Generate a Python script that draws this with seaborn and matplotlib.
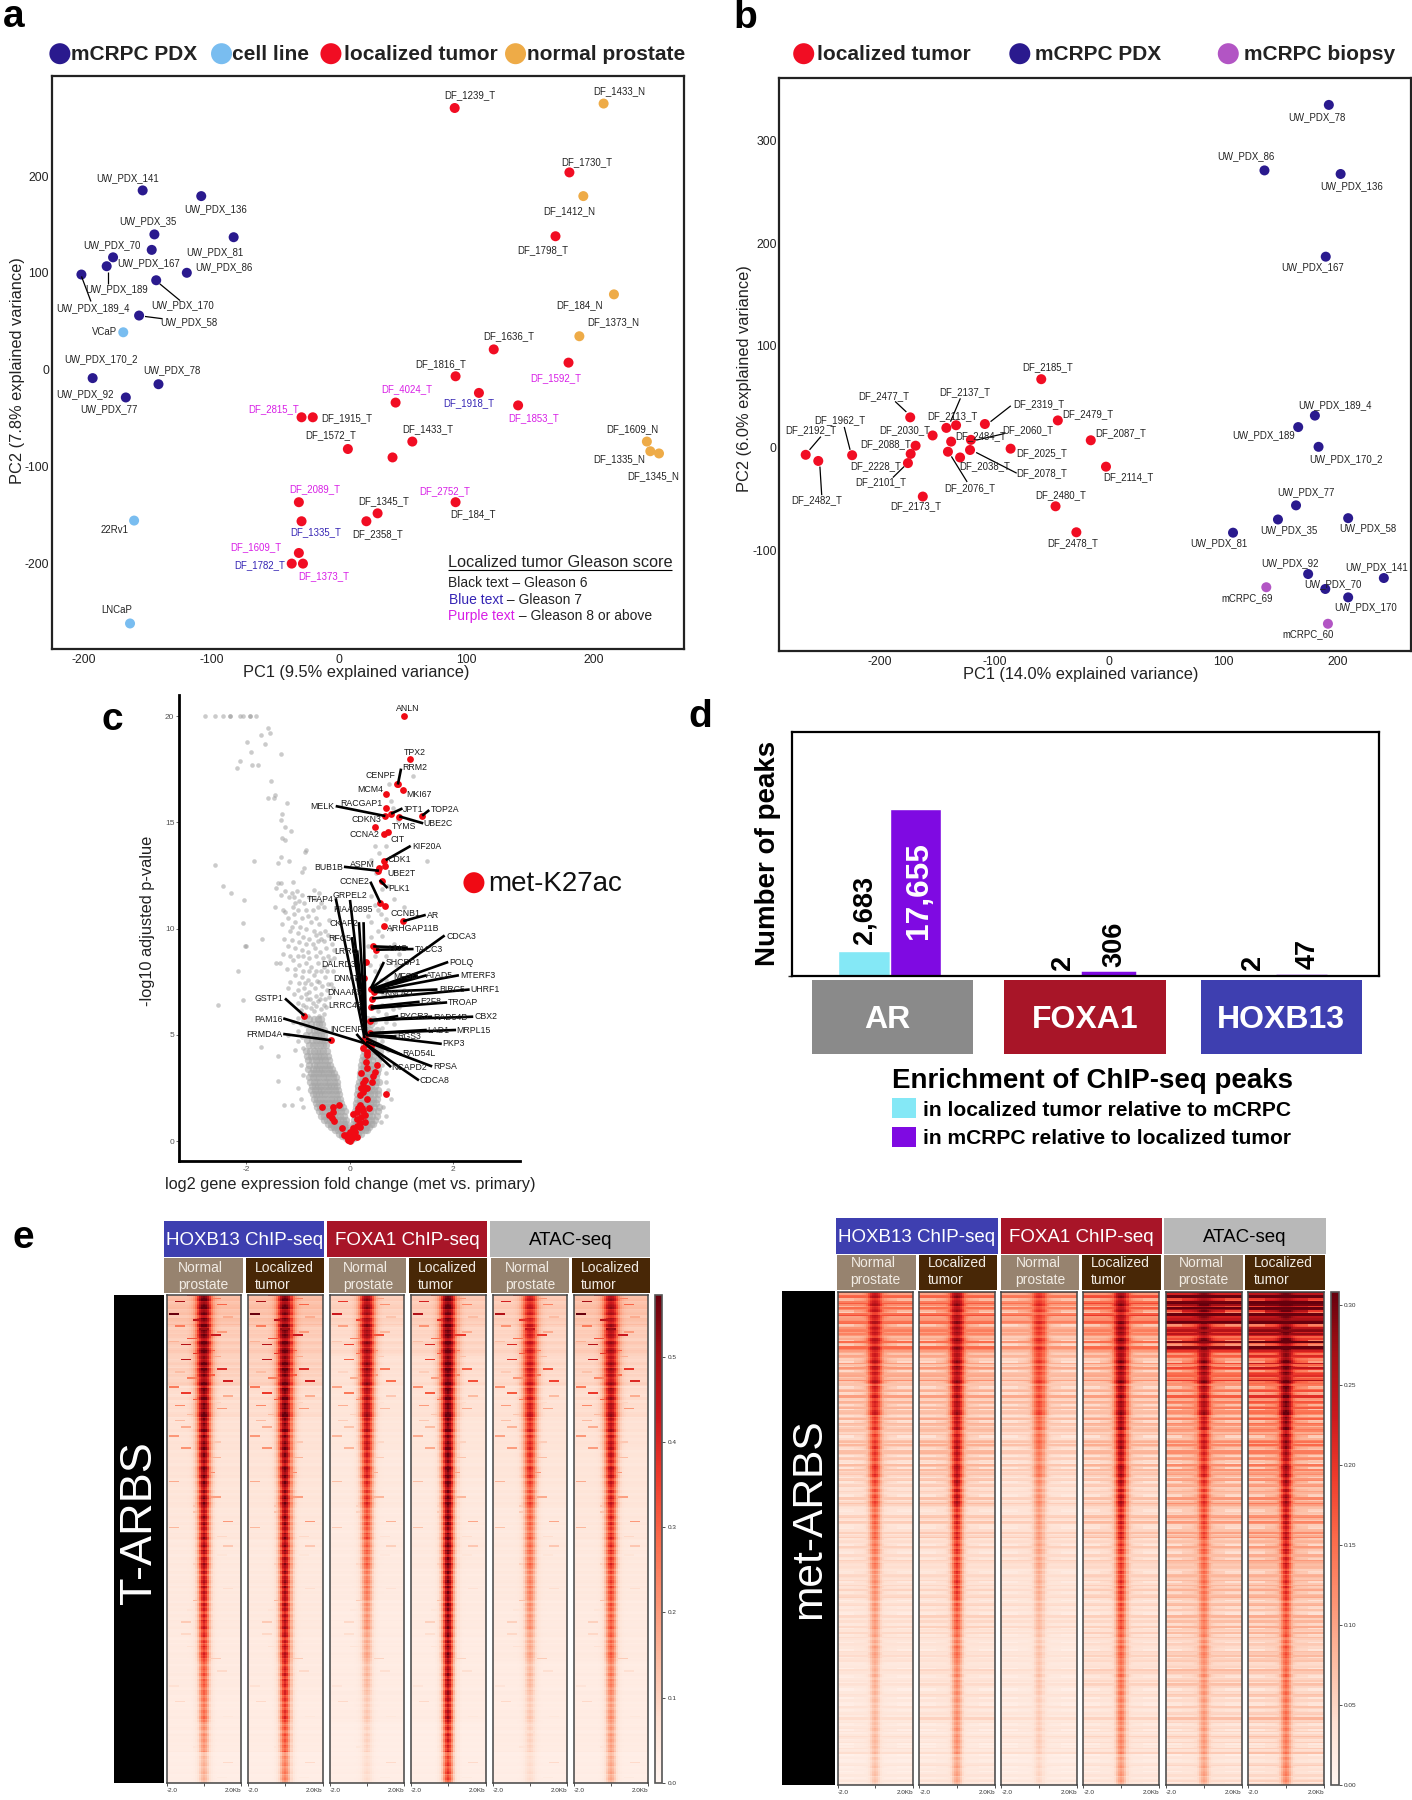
import numpy as np
import pandas as pd
import matplotlib
matplotlib.use("Agg")
import matplotlib.pyplot as plt
from matplotlib.patches import Rectangle, Circle
import seaborn as sns

sns.set_theme(style="white")
plt.rcParams['font.family'] = ['Liberation Sans', 'DejaVu Sans']
plt.rcParams['axes.unicode_minus'] = False

W, H = 1412, 1800
C_PDX, C_CELL, C_TUM, C_NORM, C_BIO = '#2a1a8e', '#79bdf0', '#f10d23', '#eeab47', '#b255c4'
TXT, BLUE, PURP = '#222222', '#3424b4', '#d81ee6'
C_HOX, C_FOX, C_ATAC, C_AR = '#3e3fb0', '#a81528', '#b8b8b8', '#8a8a8a'
C_NP, C_LT = '#97836f', '#482706'

# ---------- panel a data ----------
a_pdx_x = [-153.8, -107.9, -144.6, -146.7, -177, -182, -201.8, -82.5, -119.2, -143.2, -156.6, -193, -167, -141.4]
a_pdx_y = [185.4, 179.5, 139.9, 123.9, 116.2, 107, 98.4, 137, 100.2, 92.5, 56, -8.7, -28.7, -15]
a_cell_x = [-169, -160.5, -163.7]
a_cell_y = [38.7, -156, -262.4]
a_tum_x = [90.7, 180.6, 169.7, 121.3, 179.9, 91.4, 109.7, 44.4, 140.4, -29.3, -20.5, 7, 57.5, 42, -31.4, 91.4, 30.3, 21.5, -29.3, -31.4, -37, -28.2]
a_tum_y = [270.6, 204, 138, 21, 7.3, -6.8, -24, -34, -36.9, -49.2, -49.2, -82, -74.3, -90.7, -137, -137, -148.5, -156.7, -156.7, -189.5, -200.5, -200.5]
a_norm_x = [207.4, 191.5, 215.5, 188.4, 241.3, 244, 250.8]
a_norm_y = [275.2, 179.5, 77.9, 34.6, -74.3, -84.3, -86.6]

# ---------- panel b data ----------
b_tum_x = [-59, -173.6, -133.5, -142, -108.3, -44.5, -154, -168.9, -173.2, -175.6, -265, -254, -224.4, -15.7, -2.4, -120.5, -137.8, -140.6, -130, -121.3, -85.8, -162.6, -46.5, -28.3]
b_tum_y = [67, 29.7, 22, 19.4, 23.2, 26.7, 12, 2, -6, -15, -6.9, -12.9, -7.3, 7.3, -18.5, 7.7, 6, -3.9, -9.5, -2.2, -0.9, -47.7, -57.2, -82.6]
b_pdx_x = [192.5, 136.2, 202.8, 189.8, 180.3, 165.7, 183.5, 163.8, 148, 209.4, 108.7, 174.4, 240.6, 189.4, 209.4]
b_pdx_y = [335, 271, 267.5, 186.7, 31.4, 20.2, 0.9, -56.3, -70.1, -68.8, -83, -123.4, -127.3, -138, -146.2]
b_bio_x = [137.8, 191.7]
b_bio_y = [-136.3, -172]

# ---------- panel c data ----------
c_red_x = [1.045, 1.17, .907, .94, 1.03, .71, .706, .69, .80, 1.405, .96, .49, .74, .664, .67, .685, .57, .55, .616, .595, .69, 1.04, .657, .457, .512, .325, .27, .41, .48, .436, .41, .39, .39, .29, .32, .42, -.88, -.36,
           .33, .31, .34, .52, .49, .46, .22, .43, .30, .26, .22, .30, .33, .19, .26, .33, .70, -.54, -.21, -.32, -.33, -.41, -.35, -.30, -.155,
           .2, .17, .23, .15, .25, .38, .07, .30, .22, .135, .30, .2, .135, .07, .2, .006, .10, -.06, 0, -.12, .135, .04, -.03, 0, -.045, .07, .3, .36, .26, .33]
c_red_y = [20, 17.97, 16.82, 16.8, 16.55, 16.32, 15.68, 15.3, 15.4, 15.3, 15.27, 14.8, 14.55, 14.45, 13.2, 12.95, 12.87, 12.7, 12.23, 11.2, 11.06, 10.34, 10.14, 9.16, 9.0, 8.42, 7.68, 7.18, 7.02, 6.7, 6.32, 5.66, 5.07, 4.84, 4.55, 4.49, 5.9, 4.74,
           4.04, 3.73, 3.42, 3.6, 3.26, 3.06, 3.18, 2.79, 2.87, 2.71, 2.52, 2.52, 2.52, 2.16, 2.32, 1.96, 2.21, 1.61, 1.69, 1.58, 1.38, 1.22, 1.07, .96, .63,
           1.69, 1.54, 1.54, 1.38, 1.43, 1.54, 1.25, 1.22, 1.14, 1.02, .91, .83, .71, .6, .67, .44, .44, .28, .28, .28, .2, .125, .05, 0, .17, .28, 4.7, 4.7, 4.4, 4.2]

c_row_y = [.05, .15, .25, .35, .5, .65, .8, 1.0, 1.2, 1.4, 1.6, 1.8, 2.0, 2.2, 2.4, 2.6, 2.8, 3.0, 3.2, 3.4, 3.6, 3.8, 4.0, 4.25, 4.5, 4.75, 5.0, 5.25, 5.5, 5.75]
c_row_x = [
    [-.02, .02],
    [-.07, -.03, .03, .08],
    [-.14, -.09, -.04, .04, .09, .15],
    [-.2, -.15, -.1, -.05, .05, .11, .17, .22],
    [-.28, -.22, -.17, -.11, -.05, .05, .1, .16, .22, .29, .33],
    [-.36, -.3, -.24, -.18, -.12, -.07, .06, .12, .18, .24, .31, .38],
    [-.42, -.36, -.3, -.24, -.18, -.12, -.07, .07, .13, .2, .26, .33, .41, .45],
    [-.5, -.44, -.38, -.31, -.25, -.19, -.13, -.08, .09, .15, .22, .28, .35, .42, .49],
    [-.55, -.49, -.43, -.37, -.3, -.24, -.18, -.12, .1, .16, .23, .3, .37, .44, .52],
    [-.6, -.54, -.47, -.41, -.35, -.28, -.22, -.16, -.1, .11, .18, .25, .32, .39, .46, .55],
    [-.63, -.57, -.5, -.44, -.38, -.32, -.25, -.19, -.13, .12, .19, .26, .33, .4, .47, .56],
    [-.66, -.6, -.54, -.47, -.41, -.35, -.28, -.22, -.16, .13, .19, .26, .32, .39, .45, .5],
    [-.7, -.63, -.57, -.5, -.44, -.37, -.31, -.25, -.18, .14, .2, .27, .33, .39, .46, .52],
    [-.72, -.66, -.6, -.53, -.47, -.4, -.34, -.27, -.2, .15, .21, .27, .34, .4, .47, .54],
    [-.75, -.68, -.62, -.55, -.49, -.42, -.36, -.29, -.22, .16, .22, .28, .35, .41, .48, .55],
    [-.73, -.67, -.61, -.55, -.48, -.42, -.36, -.3, -.24, .17, .23, .29, .36, .42, .49],
    [-.76, -.7, -.63, -.57, -.5, -.44, -.38, -.31, -.25, .18, .24, .3, .37, .43, .5, .56],
    [-.78, -.71, -.65, -.59, -.52, -.46, -.4, -.33, -.27, .19, .25, .31, .38, .44, .5],
    [-.75, -.69, -.62, -.56, -.5, -.43, -.37, -.31, .2, .26, .32, .39, .45, .52],
    [-.8, -.72, -.66, -.59, -.53, -.47, -.41, -.34, .21, .27, .33, .39, .46, .54],
    [-.78, -.7, -.63, -.57, -.5, -.44, -.38, .22, .28, .34, .41, .48],
    [-.8, -.73, -.66, -.6, -.53, -.47, -.41, .24, .3, .36, .43, .55],
    [-.83, -.75, -.68, -.61, -.55, -.49, -.42, .25, .31, .38, .45],
    [-.85, -.76, -.7, -.63, -.57, -.51, -.44, .27, .33, .4, .48, .58],
    [-.78, -.71, -.65, -.58, -.52, -.46, .28, .35, .42, .52],
    [-.82, -.73, -.66, -.6, -.53, -.47, .3, .37, .45],
    [-.85, -.75, -.68, -.61, -.55, -.49, .3, .38, .47, .58],
    [-.78, -.7, -.64, -.57, -.5, .32, .4, .52],
    [-.84, -.74, -.66, -.6, -.53, .33, .42],
    [-.78, -.7, -.62, -.55, .34, .45],
]
c_sparse_x = [-2.8, -2.61, -2.45, -2.31, -2.31, -2.12, -2.07, -1.94, -1.94, -1.81, -1.58, -1.55, -1.72, -1.65, -1.99, -1.91, -1.34, -2.12, -1.9, -1.78, -2.19, -1.52, -1.45, -1.46, -1.58, -1.22, -1.32, -1.34, -1.25, -1.13, -1.32, -1.25, -.84, -.86, -1.34, -1.38, -1.17, -1.85, -2.6, -.89, -.93, -1.38, -1.33, -1.1, -2.46, -2.29, -2.05, -2.07, -1.7, -2.03, -2, -2.17, -2.07, -2.55, -1.71, -1.38, -1.38, -1.27, -1.12,
              -1.12, -1.08, -1.05, -1.1, -1.0, -.7, -.68, -.6, -.55, -.5, -1.45, -1.3, -1.25, -.85, -.8, -.75, -.65, -.6, -1.05, -1.15, -1.0, -.9, -.78, -.66, -.55, -.47, -.4, -1.2, -1.05, -.92, -.8, -.68, -.58, -.45, -.35, -1.42, -1.35, -1.1, -.98, -.85, -.74, -.62, -.5, -.38, -1.05, -.92, -.8, -.7, -.6, -.48, -.36, -1.2, -1.0, -.88, -.78, -.67, -.55, -.44, -1.0, -.9, -.82, -.72, -.62, -.5, -.88, -.8, -.7, -.6, -.5, -1.1, -.95, -1.2, -1.0, -1.05, -.95, -.9, -1.0, -.95, -.9,
              1.23, .77, .8, .84, .94, .49, .56, .42, 1.5, .7, .63, .42, .49, .6, .42, .7, .42, .63, 1.05, .49, .7, .49, .9, .56, .7, .9, .63, .84, .7, .49, .63, .9, .63, .7, .8,
              -1.42, -1.33, -1.25, -1.18, -1.02, -.98, -.92, -.88, -.78, -.62, -.72, -.93, -1.08, -1.2, -1.32, -1.12, -.97, -.85, -.7, -.58, -.5, -.42, -.3, -1.28, -1.12, -.98, -.85, -.72, -.62, -.3, -1.3, -1.16, -1.0, -.9, -.78, -.66, -.52, -.42, -.3, -1.22, -1.05, -.9, -.78, -.66, -.55, -.44, -.32, -1.15, -.98, -.86, -.74, -.64, -.54, -.42, -.32, -1.08, -.95, -.85, -.76, -.66, -.58, -.48, -.4, -.95, -.85, -.75, -.66, -.56, -.46, -1.0, -.9, -1.0, -.92, -.9,
              .5, .75, .85, .55, .35, .8, .55, .35, .85, .95, .6, .4, .95, .6, 1.05, .8, .65, .95, .7, .55, .85, .62, .75, .6, .7, .75, .65, .7, .6]
c_sparse_y = [20, 20, 20, 20, 20, 20, 20, 20, 20, 20, 19.45, 19.2, 19.1, 18.7, 18.77, 18.3, 18.2, 17.9, 17.7, 17.7, 17.55, 16.95, 16.3, 16.15, 16.15, 15.9, 15.4, 15.1, 14.8, 14.6, 14.25, 14.15, 13.7, 13.6, 13.35, 13.1, 13.2, 13.2, 13, 12.87, 12.67, 12.17, 12.17, 12.2, 12, 11.7, 11.35, 10.25, 9.5, 9.2, 9.2, 8, 6.65, 6.4, 4.45, 4, 2.84, 1.68, 1.7,
              11.7, 11.5, 11.2, 11, 10.9, 11.8, 11.4, 11.7, 11.2, 11, 11, 10.9, 10.8, 10.9, 10.6, 10.3, 10.5, 10.2, 10.3, 9.9, 9.8, 9.6, 9.5, 9.7, 9.5, 9.9, 10.4, 9.2, 9.1, 9, 8.9, 9.1, 8.9, 9.1, 9.3, 8.4, 8.4, 8.5, 8.3, 8.4, 8.2, 8.4, 8.2, 8.5, 7.8, 7.7, 7.6, 7.8, 7.5, 7.7, 7.4, 7.2, 7.1, 7.2, 7, 7.2, 6.9, 7.1, 6.5, 6.4, 6.7, 6.5, 6.6, 6.4, 6, 5.9, 6.1, 5.9, 6, 5.6, 5.5, 5, 4.7, 4.3, 3.6, 3.1, 2.5, 2, 1.6,
              17.2, 16.8, 16, 15.7, 15.1, 13.9, 13.55, 13.25, 13.2, 13.9, 11.85, 11.55, 11.1, 10.7, 10.3, 10.45, 9.6, 9.67, 11, 8.7, 8.7, 8, 8.3, 7.2, 7.6, 7.5, 6.4, 6.2, 5.6, 5.6, 4.7, 5, 3.6, 2.8, 2,
              11.9, 11.6, 11.75, 11.5, 11.75, 11.3, 11.6, 11.2, 11.5, 11.0, 10.9, 10.5, 10.7, 10.5, 10.2, 10.1, 10.1, 10.0, 9.9, 9.8, 9.4, 9.7, 9.6, 9.5, 9.45, 9.35, 9.3, 9.3, 9.4, 9.0, 8.8, 8.7, 8.7, 8.7, 8.6, 8.7, 8.6, 8.7, 8.6, 8.1, 8.1, 8.0, 8.0, 8.0, 8.0, 8.0, 8.0, 7.5, 7.45, 7.45, 7.4, 7.55, 7.3, 7.4, 7.2, 6.9, 6.8, 6.9, 6.7, 6.85, 6.7, 6.7, 6.8, 6.15, 6.3, 6.25, 6.35, 6.2, 6.3, 5.8, 5.7, 5.2, 4.9, 4.4,
              12.6, 12.0, 11.4, 10.9, 10.6, 10, 9.9, 9.2, 9.3, 8.8, 8.3, 8.3, 7.8, 7.6, 7.1, 6.8, 6.9, 6.3, 6.0, 6.1, 5.5, 5.3, 4.3, 3.9, 3.2, 2.4, 1.6, 1.2, .9]

# ---------- panel d data ----------
d_targets = ['AR', 'FOXA1', 'HOXB13']
d_local = [2683, 2, 2]
d_mcrpc = [17655, 306, 47]

# ---------- panel e data: read per depth band, top to bottom ----------
t_peak = [[.56, .56, .55, .55, .55, .54, .52, .5, .48, .46, .42, .38, .32, .28, .22, .16],
          [.55, .56, .56, .56, .55, .54, .53, .52, .5, .5, .48, .45, .42, .38, .32, .25],
          [.5, .5, .5, .48, .46, .42, .38, .34, .3, .26, .22, .18, .15, .12, .1, .08],
          [.57, .57, .57, .57, .57, .57, .56, .56, .55, .55, .54, .52, .5, .48, .42, .36],
          [.42, .42, .42, .42, .4, .38, .34, .3, .28, .25, .22, .18, .15, .12, .1, .08],
          [.48, .48, .48, .48, .47, .45, .42, .4, .38, .35, .32, .3, .26, .22, .2, .18]]
t_flank = [[.12, .1, .09, .07, .06, .055, .05, .045, .04, .04, .04, .035, .035, .03, .03, .025],
           [.12, .1, .09, .07, .06, .055, .05, .045, .04, .04, .04, .035, .035, .03, .03, .025],
           [.09, .075, .06, .05, .045, .04, .04, .035, .035, .035, .03, .03, .03, .03, .025, .025],
           [.1, .085, .07, .06, .05, .045, .04, .04, .04, .035, .035, .03, .03, .03, .025, .025],
           [.1, .085, .075, .06, .055, .05, .045, .04, .04, .04, .035, .035, .03, .03, .03, .025],
           [.12, .1, .085, .07, .06, .05, .05, .045, .04, .04, .035, .035, .03, .03, .03, .025]]
m_peak = [[.24, .24, .24, .22, .2, .2, .18, .16, .14, .12, .11, .1, .09, .08, .08, .07],
          [.27, .27, .27, .26, .25, .25, .25, .22, .2, .2, .17, .15, .13, .12, .12, .1],
          [.2, .2, .19, .18, .16, .14, .12, .11, .1, .09, .08, .07, .07, .06, .06, .05],
          [.27, .28, .28, .27, .27, .26, .25, .23, .2, .2, .18, .16, .15, .14, .13, .11],
          [.3, .29, .28, .26, .24, .22, .2, .19, .16, .15, .14, .13, .12, .11, .11, .1],
          [.31, .31, .3, .3, .29, .27, .26, .25, .23, .21, .18, .17, .16, .15, .14, .13]]
m_flank = [[.09, .08, .06, .05, .045, .04, .035, .03, .03, .03, .025, .025, .02, .02, .02, .015],
           [.09, .08, .06, .05, .05, .045, .04, .035, .03, .03, .03, .025, .025, .025, .02, .02],
           [.08, .06, .05, .045, .04, .035, .03, .03, .03, .025, .025, .02, .02, .02, .02, .015],
           [.1, .08, .06, .05, .05, .045, .04, .04, .035, .035, .03, .03, .03, .025, .025, .02],
           [.2, .15, .1, .08, .07, .065, .06, .055, .05, .05, .045, .04, .04, .035, .03, .025],
           [.22, .17, .13, .1, .085, .075, .07, .065, .06, .055, .05, .045, .04, .04, .035, .03]]
width_mix = [1, 1, .9, .7, .5, .4, .3, .2, .2, .1, .1, .1, 0, 0, 0, 0]
narrow_shape = [1, .85, .55, .25, .1, .04, .01, 0, 0, 0, 0]
wide_shape = [1, .95, .8, .55, .3, .15, .07, .03, .01, 0, 0]
t_streak = ("5273048160392751804629037154826093715482"
            "0304105020600400307005001060030400805002"
            "0040010030005000200060010004000300020005"
            "0003000020000400001000030000200005000010")
t_spot = ("3718250946158730296472058163940629471853"
          "5182640379294710586380635172941475920638"
          "6392081745085642917347130962859260538417"
          "3598162704704182539626857301495139406287")
peak_var = ("6857968475967858749675869785694876957869"
            "5786948576958674786969758486975768497586"
            "8695748697587694685779684857696857496875"
            "8476958674958674869576849685764857968475")
peak_var2 = ("7968574869586749678576948576869749587689"
             "8576947586968574976859748695867496857469"
             "5769848576947869586749857696857948675986"
             "7685946857968475869749576868594768579684")
m_streak = ("9726481935827463918537291648527182936405"
            "2917485063528173904617382509464029371586"
            "2607183945317409526806251847304193720586"
            "2507316940384106279516039274850427153960")
tick_t = [0, .1, .2, .3, .4, .5]
tick_m = [0, .05, .1, .15, .2, .25, .3]

# ---------- helpers ----------
fig = plt.figure(figsize=(W / 100, H / 100), dpi=100, facecolor='white')


def axpx(x0, y0, x1, y1, **kw):
    return fig.add_axes([x0 / W, 1 - y1 / H, (x1 - x0) / W, (y1 - y0) / H], **kw)


def scatter(ax, groups, size):
    df = pd.DataFrame([(x, y, n) for n, xs, ys, c in groups for x, y in zip(xs, ys)], columns=['x', 'y', 'g'])
    pal = {n: c for n, xs, ys, c in groups}
    sns.scatterplot(data=df, x='x', y='y', hue='g', palette=pal, s=size, linewidth=0, legend=False, ax=ax, clip_on=False)


def pca_axes(box, xlim, ylim, xt, yt):
    ax = axpx(*box)
    ax.set_xlim(*xlim)
    ax.set_ylim(*ylim)
    ax.set_xticks(xt)
    ax.set_yticks(yt)
    ax.tick_params(axis='y', length=0, labelsize=8.8, pad=2, colors='#222222')
    ax.tick_params(axis='x', length=0, labelsize=8.8, pad=3.5, colors='#222222')
    for s in ax.spines.values():
        s.set_visible(True)
        s.set_linewidth(1.6)
        s.set_color('#222222')
    return ax


ov = fig.add_axes([0, 0, 1, 1], zorder=20)
ov.set_xlim(0, W)
ov.set_ylim(H, 0)
ov.axis('off')
ov.patch.set_alpha(0)

# panel frames in the zoomed-crop coordinates used while reading the layout
FR = {'a': (0, 0, 2.221, 2.272), 'b': (706, 0, 2.221, 2.272), 'c': (100, 690, 2.8, 3.015), 'd': (680, 700, 2.142, 3.0)}


def P(f, zx, zy):
    ox, oy, sx, sy = FR[f]
    return ox + zx / sx, oy + zy / sy


def T(f, zx, zy, s, size=6.9, color=TXT, ha='center', va='center', **kw):
    x, y = P(f, zx, zy)
    ov.text(x, y, s, fontsize=size, color=color, ha=ha, va=va, **kw)


def L(f, zx0, zy0, zx1, zy1, lw=0.9):
    x0, y0 = P(f, zx0, zy0)
    x1, y1 = P(f, zx1, zy1)
    ov.plot([x0, x1], [y0, y1], color='black', lw=lw, solid_capstyle='butt')


def dot(x, y, d, c):
    ov.add_patch(Circle((x, y), d / 2, color=c, lw=0))


def box(x0, y0, x1, y1, c):
    ov.add_patch(Rectangle((x0, y0), x1 - x0, y1 - y0, color=c, lw=0))


# ---------- panel a ----------
ax_a = pca_axes((51.8, 75.7, 683.5, 649.2), (-225, 270), (-289, 304), [-200, -100, 0, 100, 200], [-200, -100, 0, 100, 200])
scatter(ax_a, [('pdx', a_pdx_x, a_pdx_y, C_PDX), ('cell', a_cell_x, a_cell_y, C_CELL),
               ('tum', a_tum_x, a_tum_y, C_TUM), ('norm', a_norm_x, a_norm_y, C_NORM)], 52)
ax_a.set_xlabel('')
ax_a.set_ylabel('')
a_labels = [('DF_1239_T', 1044, 217, TXT), ('DF_1433_N', 1375, 207, TXT), ('DF_1730_T', 1303, 369, TXT), ('DF_1412_N', 1265, 480, TXT),
            ('DF_1798_T', 1206, 568, TXT), ('DF_184_N', 1288, 693, TXT), ('DF_1373_N', 1362, 732, TXT), ('DF_1636_T', 1129, 763, TXT),
            ('DF_1592_T', 1235, 859, PURP), ('DF_1816_T', 978, 828, TXT), ('DF_4024_T', 904, 884, PURP), ('DF_1918_T', 1040, 915, BLUE),
            ('DF_1853_T', 1186, 951, PURP), ('DF_2815_T', 607, 930, PURP), ('DF_1915_T', 771, 951, TXT), ('DF_1572_T', 735, 989, TXT),
            ('DF_1433_T', 950, 975, TXT), ('DF_2089_T', 699, 1112, PURP), ('DF_2752_T', 988, 1115, PURP), ('DF_184_T', 1050, 1169, TXT),
            ('DF_1345_T', 852, 1138, TXT), ('DF_2358_T', 838, 1214, TXT), ('DF_1335_T', 702, 1208, BLUE), ('DF_1609_T', 568, 1242, PURP),
            ('DF_1782_T', 577, 1284, BLUE), ('DF_1373_T', 719, 1308, PURP), ('DF_1609_N', 1405, 975, TXT), ('DF_1335_N', 1375, 1043, TXT),
            ('DF_1345_N', 1451, 1081, TXT), ('UW_PDX_141', 284, 405, TXT), ('UW_PDX_136', 478, 476, TXT), ('UW_PDX_35', 329, 503, TXT),
            ('UW_PDX_70', 249, 556, TXT), ('UW_PDX_167', 330, 597, TXT), ('UW_PDX_81', 477, 572, TXT), ('UW_PDX_86', 498, 608, TXT),
            ('UW_PDX_189', 259, 656, TXT), ('UW_PDX_170', 406, 693, TXT), ('UW_PDX_189_4', 206, 699, TXT), ('UW_PDX_58', 420, 731, TXT),
            ('VCaP', 233, 754, TXT), ('UW_PDX_170_2', 225, 817, TXT), ('UW_PDX_78', 381, 842, TXT), ('UW_PDX_92', 189, 895, TXT),
            ('UW_PDX_77', 243, 929, TXT), ('22Rv1', 255, 1204, TXT), ('LNCaP', 259, 1387, TXT)]
for s, zx, zy, c in a_labels:
    T('a', zx, zy, s, color=c)
for seg in [(181, 628, 202, 685), (240, 618, 240, 645), (355, 645, 400, 683), (322, 719, 360, 724)]:
    L('a', *seg)
T('a', 790, 1527, 'PC1 (9.5% explained variance)', size=11.75)
T('a', 38, 842, 'PC2 (7.8% explained variance)', size=11.75, rotation=90)
T('a', 995, 1278, 'Localized tumor Gleason score', size=11.7, ha='left')
L('a', 995, 1295, 1493, 1295, lw=0.8)
T('a', 996, 1325, 'Black text – Gleason 6', size=10, ha='left')
T('a', 998, 1364, 'Blue text', size=10, ha='left', color=BLUE)
T('a', 1118, 1364, ' – Gleason 7', size=10, ha='left')
T('a', 996, 1400, 'Purple text', size=10, ha='left', color=PURP)
T('a', 1143, 1400, ' – Gleason 8 or above', size=10, ha='left')
for zx, c, tx, s in [(133, C_PDX, 158, 'mCRPC PDX'), (492, C_CELL, 516, 'cell line'), (735, C_TUM, 763, 'localized tumor'), (1145, C_NORM, 1171, 'normal prostate')]:
    x, y = P('a', zx, 122)
    dot(x, y, 21, c)
    T('a', tx, 124, s, size=15.05, ha='left', fontweight='bold')
ov.text(14, 17, 'a', fontsize=28, fontweight='bold', color='black', ha='center', va='center')

# ---------- panel b ----------
ax_b = pca_axes((779.4, 78.3, 1410.6, 651.4), (-288, 264), (-199, 361), [-200, -100, 0, 100, 200], [-100, 0, 100, 200, 300])
scatter(ax_b, [('tum', b_tum_x, b_tum_y, C_TUM), ('pdx', b_pdx_x, b_pdx_y, C_PDX), ('bio', b_bio_x, b_bio_y, C_BIO)], 52)
ax_b.set_xlabel('')
ax_b.set_ylabel('')
b_labels = [('UW_PDX_78', 1357, 266), ('UW_PDX_86', 1200, 355), ('UW_PDX_136', 1433, 422), ('UW_PDX_167', 1348, 608), ('UW_PDX_189_4', 1398, 920),
            ('UW_PDX_189', 1238, 989), ('UW_PDX_170_2', 1421, 1042), ('UW_PDX_77', 1332, 1119), ('UW_PDX_35', 1295, 1204), ('UW_PDX_58', 1470, 1201),
            ('UW_PDX_81', 1138, 1235), ('UW_PDX_92', 1296, 1280), ('UW_PDX_141', 1490, 1289), ('UW_PDX_70', 1393, 1327), ('UW_PDX_170', 1466, 1380),
            ('mCRPC_69', 1201, 1360), ('mCRPC_60', 1337, 1441), ('DF_2185_T', 759, 834), ('DF_2477_T', 394, 899), ('DF_2137_T', 575, 892),
            ('DF_2319_T', 739, 919), ('DF_2479_T', 849, 942), ('DF_2113_T', 547, 945), ('DF_1962_T', 297, 955), ('DF_2192_T', 233, 978),
            ('DF_2030_T', 441, 978), ('DF_2060_T', 715, 978), ('DF_2484_T', 610, 992), ('DF_2087_T', 921, 985), ('DF_2088_T', 400, 1008),
            ('DF_2025_T', 746, 1030), ('DF_2228_T', 376, 1060), ('DF_2038_T', 619, 1060), ('DF_2078_T', 746, 1076), ('DF_2114_T', 939, 1083),
            ('DF_2101_T', 388, 1096), ('DF_2076_T', 586, 1109), ('DF_2482_T', 246, 1137), ('DF_2173_T', 466, 1151), ('DF_2480_T', 788, 1124),
            ('DF_2478_T', 815, 1235)]
for s, zx, zy in b_labels:
    T('b', zx, zy, s)
for seg in [(420, 912, 445, 936), (565, 905, 543, 958), (677, 922, 632, 958), (255, 992, 230, 1022), (307, 970, 320, 1022), (663, 985, 600, 1000),
            (600, 1028, 690, 1075), (545, 1037, 580, 1095), (253, 1060, 257, 1125), (440, 1060, 415, 1085)]:
    L('b', *seg)
T('b', 833, 1532, 'PC1 (14.0% explained variance)', size=11.75)
T('b', 85, 860, 'PC2 (6.0% explained variance)', size=11.75, rotation=90)
for zx, c, tx, s in [(217, C_TUM, 247, 'localized tumor'), (697, C_PDX, 731, 'mCRPC PDX'), (1160, C_BIO, 1195, 'mCRPC biopsy')]:
    x, y = P('b', zx, 122)
    dot(x, y, 21, c)
    T('b', tx, 124, s, size=15.05, ha='left', fontweight='bold')
ov.text(745, 18, 'b', fontsize=28, fontweight='bold', color='black', ha='center', va='center')

# ---------- panel c ----------
ax_c = axpx(179.3, 695, 519.6, 1161)
gx = [x for xs in c_row_x for x in xs]
gy = [y for y, xs in zip(c_row_y, c_row_x) for _ in xs]
sns.scatterplot(x=c_sparse_x, y=c_sparse_y, color='#999999', alpha=0.5, s=11, linewidth=0, ax=ax_c)
sns.scatterplot(x=gx, y=gy, color='#a6a6a6', alpha=0.6, s=28, linewidth=0, ax=ax_c)
sns.scatterplot(x=c_red_x, y=c_red_y, color='#f00a14', s=24, linewidth=0, ax=ax_c, zorder=5)
ax_c.set_xlim(-3.3, 3.29)
ax_c.set_ylim(-0.94, 21)
ax_c.set_xticks([-2, 0, 2])
ax_c.set_yticks([0, 5, 10, 15, 20])
ax_c.tick_params(labelsize=6, colors='#555555', length=2, width=.6, pad=1.5, left=True, bottom=True)
sns.despine(ax=ax_c)
for s in ['left', 'bottom']:
    ax_c.spines[s].set_visible(True)
    ax_c.spines[s].set_linewidth(2.0)
    ax_c.spines[s].set_color('black')
c_labels = [('ANLN', 863, 57), ('TPX2', 882, 188), ('RRM2', 880, 235), ('CENPF', 785, 259), ('MCM4', 756, 301), ('MKI67', 894, 315), ('MELK', 622, 352),
            ('RACGAP1', 733, 342), ('JPT1', 876, 359), ('TOP2A', 965, 361), ('UBE2C', 945, 402), ('CDKN3', 745, 391), ('TYMS', 852, 411), ('CCNA2', 741, 437),
            ('CIT', 833, 452), ('KIF20A', 914, 471), ('CDK1', 837, 512), ('BUB1B', 640, 534), ('ASPM', 735, 527), ('UBE2T', 844, 553), ('CCNE2', 712, 578),
            ('PLK1', 838, 599), ('TFAP4', 618, 633), ('GRPEL2', 700, 620), ('KIAA0895', 709, 662), ('CCNB1', 855, 675), ('AR', 932, 680), ('CKAP2', 682, 703),
            ('ARHGAP11B', 878, 719), ('CDCA3', 1011, 742), ('RFC5', 670, 748), ('UNC', 835, 778), ('TACC3', 920, 782), ('LRRC', 690, 787), ('SHCBP1', 848, 823),
            ('POLQ', 1011, 821), ('DALRD3', 668, 829), ('DNMT', 690, 870), ('MFSD', 855, 863), ('ATAD5', 950, 861), ('MTERF3', 1057, 861), ('BIRC5', 986, 903),
            ('UHRF1', 1079, 904), ('KNOP1', 838, 916), ('DNAAF5', 685, 912), ('E2F8', 927, 940), ('TROAP', 1017, 943), ('LRRC45', 685, 952), ('GSTP1', 473, 931),
            ('PYCR3', 878, 983), ('RAD54B', 982, 986), ('CBX2', 1081, 985), ('PAM16', 473, 992), ('LAD1', 948, 1027), ('MRPL15', 1046, 1026), ('INCENP', 690, 1024),
            ('FRMD4A', 461, 1038), ('RGS3', 866, 1046), ('PKP3', 991, 1067), ('RAD54L', 894, 1096), ('RPSA', 967, 1135), ('NCAPD2', 866, 1137), ('CDCA8', 936, 1177)]
for s, zx, zy in c_labels:
    T('c', zx, zy, s, size=6.3, color='#1a1a1a')
for seg in [(843, 237, 834, 285), (660, 350, 799, 380), (847, 357, 815, 373), (922, 362, 902, 379), (905, 402, 838, 381), (870, 470, 800, 513), (683, 533, 781, 545),
            (757, 578, 785, 642), (783, 573, 805, 597), (912, 678, 849, 697), (965, 740, 758, 900), (878, 781, 773, 783), (862, 777, 765, 773), (795, 820, 758, 900),
            (975, 820, 760, 902), (890, 860, 760, 905), (915, 860, 762, 905), (1005, 860, 765, 908), (945, 903, 768, 910), (1035, 903, 762, 930), (795, 912, 768, 910),
            (895, 940, 758, 955), (972, 942, 758, 960), (835, 983, 755, 997), (930, 985, 755, 997), (1045, 985, 755, 995), (915, 1025, 755, 1035), (997, 1025, 755, 1035),
            (830, 1045, 745, 1040), (957, 1067, 745, 1040), (845, 1100, 745, 1050), (930, 1135, 745, 1060), (815, 1137, 745, 1068), (893, 1177, 741, 1065),
            (660, 628, 741, 1050), (700, 633, 745, 1040), (738, 700, 745, 1040), (725, 700, 745, 1040), (705, 745, 745, 1040), (720, 785, 745, 1040), (718, 828, 745, 1040),
            (720, 868, 745, 1040), (730, 912, 745, 1040), (730, 952, 745, 1040), (718, 1037, 741, 1065), (518, 930, 572, 982), (513, 990, 741, 1065), (513, 1037, 647, 1056)]:
    L('c', *seg, lw=1.9)
T('c', 700, 1490, 'log2 gene expression fold change (met vs. primary)', size=11.7)
T('c', 132, 695, '-log10 adjusted p-value', size=11.8, rotation=90)
x, y = P('c', 1047, 581)
dot(x, y, 21, '#f00a14')
T('c', 1087, 584, 'met-K27ac', size=20, ha='left', color='#111111')
ov.text(112, 720, 'c', fontsize=28, fontweight='bold', color='black', ha='center', va='center')

# ---------- panel d ----------
ax_d = axpx(792, 732.3, 1379.4, 976)
d_df = pd.DataFrame({'target': d_targets * 2, 'peaks': d_local + d_mcrpc,
                     'set': ['local'] * 3 + ['mcrpc'] * 3})
sns.barplot(data=d_df, x='target', y='peaks', hue='set', palette={'local': '#84e8f6', 'mcrpc': '#7f0ae2'},
            width=.53, gap=0, legend=False, ax=ax_d, saturation=1)
ax_d.set_xlim(-.505, 2.535)
ax_d.set_ylim(0, 25718)
ax_d.set_yticks([0])
ax_d.set_yticklabels([''])
ax_d.set_xticks([])
ax_d.set_xlabel('')
ax_d.set_ylabel('')
ax_d.tick_params(axis='y', length=3, width=1, left=True)
for bar in ax_d.patches:
    if 10 < bar.get_height() < 1000:
        bar.set_edgecolor('#7f0ae2')
        bar.set_linewidth(2.5)
for s in ax_d.spines.values():
    s.set_visible(True)
    s.set_linewidth(1.6)
    s.set_color('black')
T('d', 188, 461, 'Number of peaks', size=20, rotation=90, fontweight='bold', color='black')
for zx, zy, s, size, c in [(395, 630, '2,683', 19.5, 'black'), (511, 573, '17,655', 22.8, 'white'), (930, 732, '306', 19.5, 'black'),
                           (820, 788, '2', 19.5, 'black'), (1345, 761, '47', 19.5, 'black'), (1227, 788, '2', 19.5, 'black')]:
    T('d', zx, zy, s, size=size, rotation=90, fontweight='bold', color=c)
for x0, x1, c, s, tx in [(811.7, 973.2, C_AR, 'AR', 887.8), (1003.5, 1165.5, C_FOX, 'FOXA1', 1084.8), (1200.5, 1361.6, C_HOX, 'HOXB13', 1281.3)]:
    box(x0, 980, x1, 1054.3, c)
    ov.text(tx, 1020, s, fontsize=23, fontweight='bold', color='white', ha='center', va='center')
ov.text(1092.5, 1081, 'Enrichment of ChIP-seq peaks', fontsize=20, fontweight='bold', color='black', ha='center', va='center')
box(891.5, 1098, 915.8, 1118, '#84e8f6')
box(891.5, 1126.7, 915.8, 1146.7, '#7f0ae2')
ov.text(923, 1110.5, 'in localized tumor relative to mCRPC', fontsize=15.1, fontweight='bold', color='black', ha='left', va='center')
ov.text(923, 1139, 'in mCRPC relative to localized tumor', fontsize=15.1, fontweight='bold', color='black', ha='left', va='center')
ov.text(700, 717, 'd', fontsize=28, fontweight='bold', color='black', ha='center', va='center')


# ---------- panel e ----------
def matrix(peak, flank, full_row):
    base_rows, half = len(peak_var), len(wide_shape) - 1
    rows = base_rows * 2
    n = 2 * half + 1 + 16
    out = np.zeros((rows, n))
    mid = n // 2
    for r in range(rows):
        b = r * len(peak) // rows
        i = r // 2
        v = int((peak_var if r % 2 == 0 else peak_var2)[i])
        base = flank[b] * (.75 + .05 * v)
        row = np.full(n, base)
        if full_row:
            d = int((m_streak if r % 2 == 0 else t_spot)[i])
            row = row * (.65 + .12 * d)
        elif r % 2 == 0:
            s = int(t_streak[i])
            start = int(t_spot[i]) * 3 + 1
            if s:
                row[start:start + 5] += flank[b] * s * .45
        shape = [width_mix[b] * w + (1 - width_mix[b]) * a for w, a in zip(wide_shape, narrow_shape)]
        for k, sv in enumerate(shape):
            amp = peak[b] * (.55 + .06 * v)
            row[mid + k] = max(row[mid + k], base + (amp - base) * sv)
            row[mid - k] = max(row[mid - k], base + (amp - base) * sv)
        out[r] = row
    return out


def heat_block(panels, peaks, flanks, vmax, cbar_box, ticks, fmt, full_row):
    for i, (x0, y0, x1, y1) in enumerate(panels):
        ax = axpx(x0, y0, x1, y1)
        last = i == len(panels) - 1
        if last:
            cax = axpx(*cbar_box)
            kw = {'cbar': True, 'cbar_ax': cax}
        else:
            kw = {'cbar': False}
        sns.heatmap(matrix(peaks[i], flanks[i], full_row), vmin=0, vmax=vmax, cmap='Reds', ax=ax,
                    xticklabels=False, yticklabels=False, rasterized=True, **kw)
        ncol = ax.get_xlim()[1]
        ax.set_xticks([0, ncol / 2, ncol])
        ax.set_xticklabels(['-2.0', '', '2.0Kb'], fontsize=4.6, color='#333333')
        ax.get_xticklabels()[0].set_ha('left')
        ax.get_xticklabels()[2].set_ha('right')
        ax.tick_params(axis='x', length=2, width=.6, pad=1.5, bottom=True, color='#333333')
        for s in ax.spines.values():
            s.set_visible(True)
            s.set_linewidth(1.1)
            s.set_color('#444444')
        if last:
            cb = ax.collections[0].colorbar
            cb.set_ticks(ticks)
            cb.set_ticklabels([fmt % t for t in ticks])
            cax.tick_params(axis='y', length=2, width=.6, pad=2, right=True, labelsize=4.6, labelcolor='#333333', color='#333333')
            cb.outline.set_visible(True)
            cb.outline.set_edgecolor('#555555')
            cb.outline.set_linewidth(1.2)


t_panels = [(x0, 1294.8, x1, 1783) for x0, x1 in [(166.6, 241.3), (248.1, 322.8), (329.6, 404.3), (411, 485.8), (492.6, 567.3), (573.6, 648.4)]]
m_panels = [(x0, 1291.8, x1, 1784.8) for x0, x1 in [(837.5, 913.1), (919.4, 995), (1001.4, 1077.4), (1083.3, 1159.4), (1165.7, 1241.8), (1248.1, 1324.2)]]
heat_block(t_panels, t_peak, t_flank, .5726, (655, 1294.8, 662.3, 1783), tick_t, '%.1f', False)
heat_block(m_panels, m_peak, m_flank, .308, (1330.5, 1291.8, 1338.6, 1784.8), tick_m, '%.2f', True)

titles = ['HOXB13 ChIP-seq', 'FOXA1 ChIP-seq', 'ATAC-seq']
for bands, by, subs, sy, lx in [([(164.3, 324.2), (327.3, 487.2), (490.3, 650.2)], (1221, 1257.3),
                                 [(164.3, 243.1), (246.3, 324.2), (328.7, 406.1), (408.8, 487.2), (491.2, 568.7), (571.8, 649.7)], (1258.2, 1293), (1268, 1285)),
                                ([(836.1, 997.8), (1000.5, 1161.7), (1163.9, 1326)], (1218.4, 1254.3),
                                 [(836.6, 915.8), (919, 997.3), (1001.4, 1079.3), (1082, 1160.8), (1164.4, 1243.1), (1245, 1325.1)], (1254.7, 1290), (1263, 1280))]:
    for (x0, x1), s, c, tc in zip(bands, titles, [C_HOX, C_FOX, C_ATAC], ['white', 'white', 'black']):
        box(x0, by[0], x1, by[1], c)
        ov.text((x0 + x1) / 2, (by[0] + by[1]) / 2 + 1, s, fontsize=13.5, color=tc, ha='center', va='center')
    for i, (x0, x1) in enumerate(subs):
        normal = i % 2 == 0
        box(x0, sy[0], x1, sy[1], C_NP if normal else C_LT)
        tx = x0 + (14 if normal else 9)
        ov.text(tx, lx[0], 'Normal' if normal else 'Localized', fontsize=10, color='#f2ece4', ha='left', va='center')
        ov.text(tx, lx[1], 'prostate' if normal else 'tumor', fontsize=10, color='#f2ece4', ha='left', va='center')

box(113.5, 1294.8, 163.9, 1783, 'black')
ov.text(139.5, 1523, 'T-ARBS', fontsize=32.4, color='white', rotation=90, ha='center', va='center')
box(781.6, 1290.7, 835.2, 1784.8, 'black')
ov.text(808.7, 1519, 'met-ARBS', fontsize=30.6, color='white', rotation=90, ha='center', va='center')
ov.text(23, 1238, 'e', fontsize=28, fontweight='bold', color='black', ha='center', va='center')

fig.savefig('out.png', dpi=100, facecolor='white')
